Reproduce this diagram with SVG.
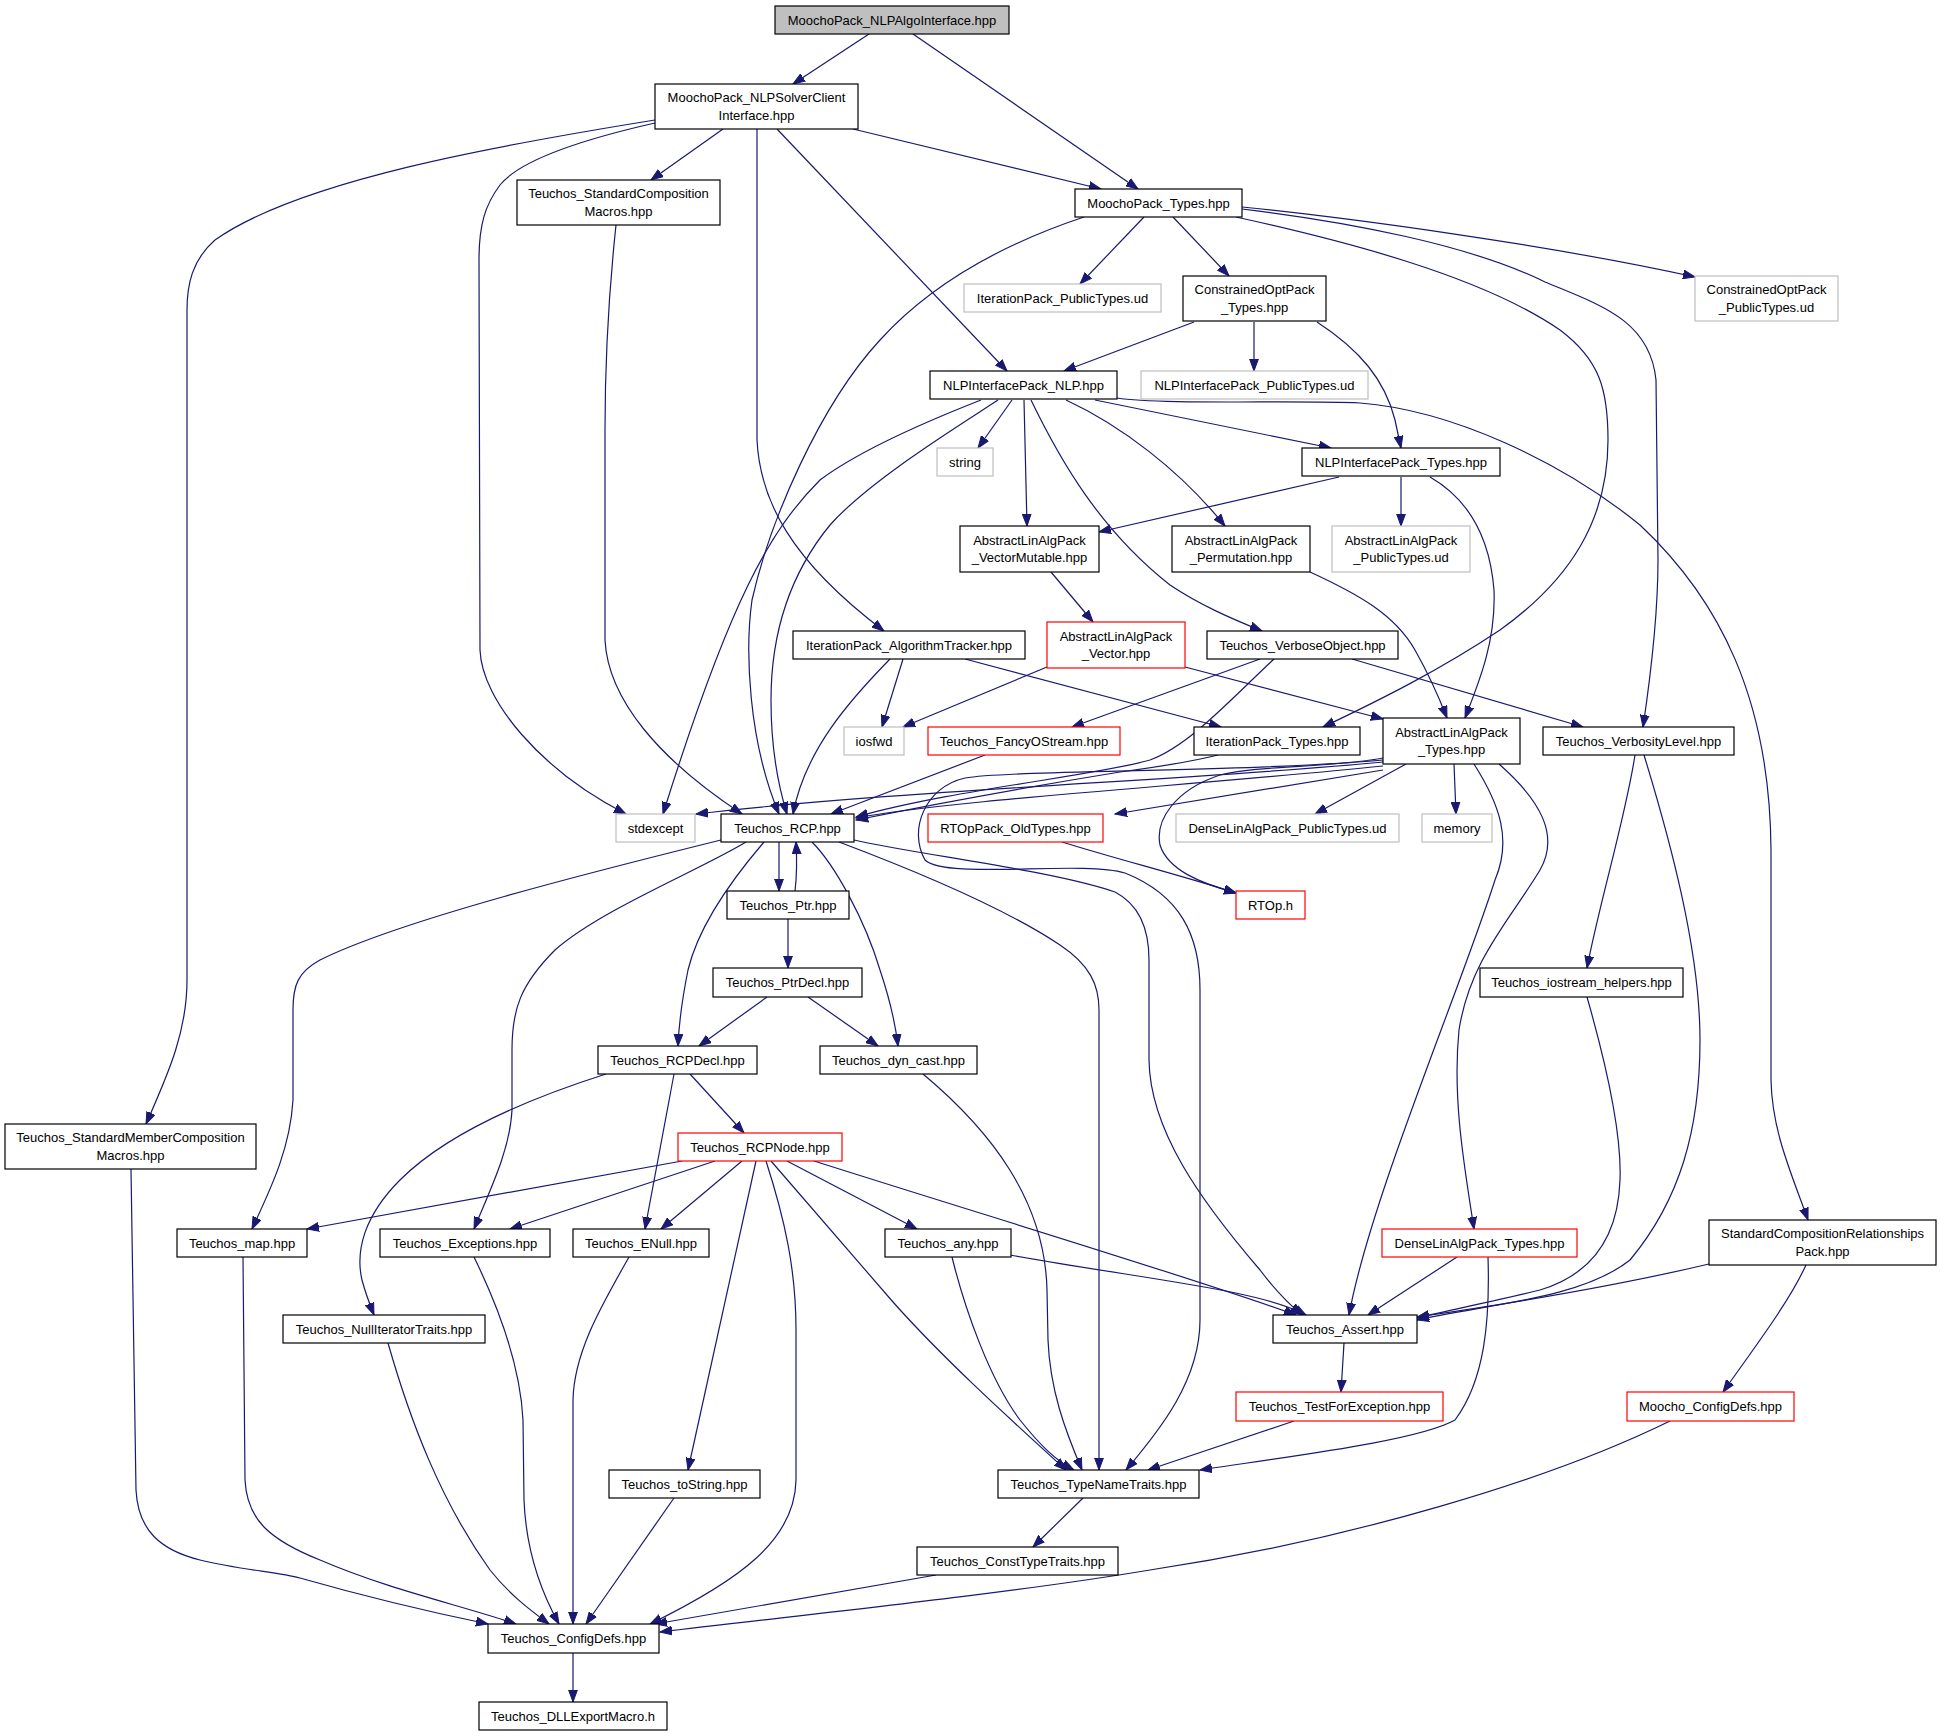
<svg xmlns="http://www.w3.org/2000/svg" width="1941" height="1736" viewBox="0 0 1941 1736">
<style>
rect{fill:#ffffff;stroke:#000000;stroke-width:1.2}
.top rect{fill:#bfbfbf}
.g rect{stroke:#bfbfbf}
.r rect{stroke:#ff0000}
text{font-family:"Liberation Sans",Arial,Helvetica,sans-serif;font-size:13px;fill:#000000;text-anchor:middle}
#edges path{fill:none;stroke:#191970;stroke-width:1.2;marker-end:url(#arr)}
</style>
<defs>
<marker id="arr" markerUnits="userSpaceOnUse" markerWidth="13" markerHeight="10" refX="12" refY="5" orient="auto">
<path d="M0,0.6 L12,5 L0,9.4 z" fill="#191970" stroke="#191970" stroke-width="1"/>
</marker>
</defs>
<rect x="0" y="0" width="1941" height="1736" style="fill:#ffffff;stroke:none"/>
<g id="edges">
<path d="M869,34 L793,84"/>
<path d="M913,34 L1138,189"/>
<path d="M853,129 L1101,189"/>
<path d="M723,129 L651,180"/>
<path d="M777,129 L1007,371"/>
<path d="M757,129 L757,440 C760,500 790,560 884,631"/>
<path d="M655,123 C580,140 520,160 500,185 C485,205 479,225 479,260 L480,650 C482,700 540,770 626,814"/>
<path d="M655,120 C500,145 300,180 215,240 C192,260 187,285 187,310 L187,980 C187,1030 170,1070 146,1124"/>
<path d="M616,225 C608,300 605,360 605,430 L605,640 C608,700 660,760 742,814"/>
<path d="M1084,217 C1000,245 930,285 880,340 C820,405 770,520 752,600 C745,650 748,740 779,814"/>
<path d="M1144,217 L1080,284"/>
<path d="M1173,217 L1229,276"/>
<path d="M1242,207 C1350,218 1550,245 1695,277"/>
<path d="M1236,217 C1340,240 1480,275 1560,330 C1600,360 1608,390 1608,440 C1608,520 1570,580 1500,630 C1440,670 1380,700 1323,727"/>
<path d="M1242,209 C1350,222 1470,245 1545,282 C1600,305 1650,320 1656,380 L1658,560 C1658,620 1650,680 1643,727"/>
<path d="M1194,322 L1064,371"/>
<path d="M1254,322 L1254,371"/>
<path d="M1317,322 C1360,350 1385,380 1395,420 L1401,448"/>
<path d="M981,400 C930,420 860,450 820,480 C770,530 730,600 663,814"/>
<path d="M998,400 C960,425 870,480 830,525 C785,580 771,640 771,700 C771,750 778,785 787,814"/>
<path d="M1012,400 L978,448"/>
<path d="M1024,400 L1027,526"/>
<path d="M1031,400 C1060,460 1100,530 1170,585 C1200,605 1230,618 1262,631"/>
<path d="M1066,400 C1120,425 1180,470 1225,526"/>
<path d="M1095,400 L1331,448"/>
<path d="M1117,398 C1160,405 1300,400 1360,403 C1450,410 1560,460 1640,525 C1720,600 1770,700 1771,850 L1771,1080 C1772,1130 1790,1170 1808,1220"/>
<path d="M1339,477 L1099,532"/>
<path d="M1401,477 L1401,526"/>
<path d="M1430,477 C1470,500 1490,540 1494,590 C1496,640 1480,680 1465,718"/>
<path d="M1051,572 L1093,622"/>
<path d="M1310,572 C1360,595 1395,615 1415,650 C1432,680 1440,700 1447,718"/>
<path d="M890,659 C850,700 805,750 793,814"/>
<path d="M903,659 L882,727"/>
<path d="M965,659 L1221,727"/>
<path d="M1047,667 L903,727"/>
<path d="M1185,667 L1383,719"/>
<path d="M1260,659 L1072,727"/>
<path d="M1352,659 L1583,727"/>
<path d="M985,755 L831,814"/>
<path d="M1218,755 C1190,762 1150,768 1120,772 C1040,785 930,805 856,820"/>
<path d="M1274,659 C1230,700 1190,745 1150,760 C1100,775 950,790 856,817"/>
<path d="M1383,762 C1200,780 900,790 696,814"/>
<path d="M1383,766 C1200,785 950,800 856,818"/>
<path d="M1383,770 L1115,814"/>
<path d="M1406,764 L1315,814"/>
<path d="M1454,764 L1456,814"/>
<path d="M1383,758 C1330,768 1260,765 1220,775 C1175,790 1155,820 1160,845 C1168,870 1200,883 1236,893"/>
<path d="M1062,842 C1120,860 1180,875 1236,893"/>
<path d="M1499,764 C1540,800 1560,835 1540,870 C1510,920 1470,960 1459,1030 C1452,1100 1465,1170 1474,1229"/>
<path d="M1474,764 C1500,805 1512,840 1495,880 C1460,990 1370,1200 1349,1315"/>
<path d="M1383,760 C1250,772 1010,770 965,778 C925,787 908,830 925,860 C945,880 1080,860 1125,873 C1180,895 1200,935 1200,990 L1200,1320 C1200,1380 1160,1430 1126,1470"/>
<path d="M779,842 L779,891"/>
<path d="M795,891 C797,875 797,860 796,842"/>
<path d="M764,842 C740,870 700,920 688,970 C682,1000 679,1020 678,1046"/>
<path d="M812,842 C835,865 865,920 880,970 C890,1000 895,1020 898,1046"/>
<path d="M746,842 C700,870 600,910 555,950 C520,985 512,1010 512,1050 L512,1110 C510,1150 490,1190 474,1229"/>
<path d="M721,840 C600,870 400,920 320,960 C298,972 293,985 293,1010 L293,1100 C290,1150 270,1190 252,1229"/>
<path d="M839,842 C900,865 1000,905 1060,945 C1090,965 1099,985 1099,1010 L1099,1470"/>
<path d="M854,840 C920,855 1050,870 1115,892 C1140,905 1149,930 1149,960 L1149,1060 C1150,1130 1200,1200 1260,1270 C1275,1290 1290,1305 1302,1315"/>
<path d="M788,919 L788,968"/>
<path d="M767,997 L699,1046"/>
<path d="M808,997 L878,1046"/>
<path d="M690,1074 L744,1133"/>
<path d="M674,1074 L645,1229"/>
<path d="M606,1074 C540,1095 450,1130 400,1180 C365,1215 355,1250 362,1280 C366,1295 370,1305 374,1315"/>
<path d="M923,1074 C990,1130 1045,1200 1047,1290 L1048,1340 C1050,1390 1065,1430 1082,1470"/>
<path d="M682,1161 L307,1229"/>
<path d="M715,1161 L510,1229"/>
<path d="M742,1161 L661,1229"/>
<path d="M756,1161 L688,1470"/>
<path d="M766,1161 C785,1220 796,1270 796,1330 L796,1480 C795,1540 740,1580 650,1624"/>
<path d="M771,1161 L893,1302 C940,1355 1000,1410 1066,1470"/>
<path d="M787,1161 L917,1229"/>
<path d="M814,1161 C1000,1220 1200,1280 1296,1315"/>
<path d="M952,1257 C965,1310 990,1380 1020,1420 C1040,1445 1055,1460 1074,1470"/>
<path d="M1010,1255 C1150,1280 1260,1290 1306,1315"/>
<path d="M1488,1257 C1490,1320 1485,1380 1455,1420 C1420,1440 1300,1455 1200,1470"/>
<path d="M1457,1257 L1368,1315"/>
<path d="M1635,755 C1625,820 1600,900 1587,968"/>
<path d="M1644,755 C1670,840 1700,950 1700,1040 C1700,1130 1680,1200 1630,1260 C1580,1300 1480,1305 1417,1320"/>
<path d="M1587,997 C1605,1060 1622,1130 1620,1180 C1618,1240 1590,1275 1540,1290 C1500,1300 1450,1310 1417,1318"/>
<path d="M1709,1264 C1620,1285 1500,1305 1417,1317"/>
<path d="M1806,1265 C1790,1300 1760,1340 1723,1392"/>
<path d="M1344,1343 L1341,1392"/>
<path d="M1294,1421 L1148,1470"/>
<path d="M1670,1421 C1550,1480 1350,1540 1150,1570 C1000,1595 800,1615 660,1632"/>
<path d="M936,1575 L655,1624"/>
<path d="M1083,1498 L1033,1547"/>
<path d="M573,1653 L573,1702"/>
<path d="M674,1498 L586,1624"/>
<path d="M629,1257 C605,1300 574,1350 573,1400 L573,1624"/>
<path d="M474,1257 C495,1300 520,1360 523,1420 L524,1500 C526,1550 540,1590 559,1624"/>
<path d="M388,1343 C410,1420 440,1500 490,1570 C510,1595 530,1610 549,1624"/>
<path d="M243,1257 L245,1480 C247,1520 270,1540 320,1560 C390,1590 460,1605 516,1624"/>
<path d="M131,1169 L136,1490 C138,1530 160,1550 200,1560 C240,1570 280,1572 300,1578 C370,1598 430,1612 488,1624"/>
</g>
<g id="n1" class="top"><rect x="775" y="6" width="234" height="28"/><text x="892" y="24.5">MoochoPack_NLPAlgoInterface.hpp</text></g>
<g id="n2"><rect x="655" y="84" width="203" height="45"/><text x="756.5" y="102">MoochoPack_NLPSolverClient</text><text x="756.5" y="119.5">Interface.hpp</text></g>
<g id="n3"><rect x="517" y="180" width="203" height="45"/><text x="618.5" y="198">Teuchos_StandardComposition</text><text x="618.5" y="215.5">Macros.hpp</text></g>
<g id="n4"><rect x="1075" y="189" width="167" height="28"/><text x="1158.5" y="207.5">MoochoPack_Types.hpp</text></g>
<g id="n5" class="g"><rect x="964" y="284" width="197" height="28"/><text x="1062.5" y="302.5">IterationPack_PublicTypes.ud</text></g>
<g id="n6"><rect x="1183" y="276" width="143" height="45"/><text x="1254.5" y="294">ConstrainedOptPack</text><text x="1254.5" y="311.5">_Types.hpp</text></g>
<g id="n7" class="g"><rect x="1695" y="276" width="143" height="45"/><text x="1766.5" y="294">ConstrainedOptPack</text><text x="1766.5" y="311.5">_PublicTypes.ud</text></g>
<g id="n8"><rect x="930" y="371" width="187" height="28"/><text x="1023.5" y="389.5">NLPInterfacePack_NLP.hpp</text></g>
<g id="n9" class="g"><rect x="1141" y="371" width="227" height="28"/><text x="1254.5" y="389.5">NLPInterfacePack_PublicTypes.ud</text></g>
<g id="n10" class="g"><rect x="937" y="448" width="56" height="28"/><text x="965" y="466.5">string</text></g>
<g id="n11"><rect x="1302" y="448" width="198" height="28"/><text x="1401" y="466.5">NLPInterfacePack_Types.hpp</text></g>
<g id="n12"><rect x="960" y="526" width="139" height="46"/><text x="1029.5" y="544.5">AbstractLinAlgPack</text><text x="1029.5" y="562">_VectorMutable.hpp</text></g>
<g id="n13"><rect x="1172" y="526" width="138" height="46"/><text x="1241" y="544.5">AbstractLinAlgPack</text><text x="1241" y="562">_Permutation.hpp</text></g>
<g id="n14" class="g"><rect x="1332" y="526" width="138" height="46"/><text x="1401" y="544.5">AbstractLinAlgPack</text><text x="1401" y="562">_PublicTypes.ud</text></g>
<g id="n15"><rect x="793" y="631" width="232" height="28"/><text x="909" y="649.5">IterationPack_AlgorithmTracker.hpp</text></g>
<g id="n16" class="r"><rect x="1047" y="622" width="138" height="46"/><text x="1116" y="640.5">AbstractLinAlgPack</text><text x="1116" y="658">_Vector.hpp</text></g>
<g id="n17"><rect x="1207" y="631" width="191" height="28"/><text x="1302.5" y="649.5">Teuchos_VerboseObject.hpp</text></g>
<g id="n18" class="g"><rect x="844" y="727" width="60" height="28"/><text x="874" y="745.5">iosfwd</text></g>
<g id="n19" class="r"><rect x="928" y="727" width="192" height="28"/><text x="1024" y="745.5">Teuchos_FancyOStream.hpp</text></g>
<g id="n20"><rect x="1194" y="727" width="166" height="28"/><text x="1277" y="745.5">IterationPack_Types.hpp</text></g>
<g id="n21"><rect x="1383" y="718" width="137" height="46"/><text x="1451.5" y="736.5">AbstractLinAlgPack</text><text x="1451.5" y="754">_Types.hpp</text></g>
<g id="n22"><rect x="1543" y="727" width="191" height="28"/><text x="1638.5" y="745.5">Teuchos_VerbosityLevel.hpp</text></g>
<g id="n23" class="g"><rect x="616" y="814" width="79" height="28"/><text x="655.5" y="832.5">stdexcept</text></g>
<g id="n24"><rect x="721" y="814" width="133" height="28"/><text x="787.5" y="832.5">Teuchos_RCP.hpp</text></g>
<g id="n25" class="r"><rect x="928" y="814" width="175" height="28"/><text x="1015.5" y="832.5">RTOpPack_OldTypes.hpp</text></g>
<g id="n26" class="g"><rect x="1176" y="814" width="223" height="28"/><text x="1287.5" y="832.5">DenseLinAlgPack_PublicTypes.ud</text></g>
<g id="n27" class="g"><rect x="1422" y="814" width="70" height="28"/><text x="1457" y="832.5">memory</text></g>
<g id="n28"><rect x="727" y="891" width="122" height="28"/><text x="788" y="909.5">Teuchos_Ptr.hpp</text></g>
<g id="n29" class="r"><rect x="1236" y="891" width="69" height="28"/><text x="1270.5" y="909.5">RTOp.h</text></g>
<g id="n30"><rect x="713" y="968" width="149" height="29"/><text x="787.5" y="987">Teuchos_PtrDecl.hpp</text></g>
<g id="n31"><rect x="1480" y="968" width="203" height="29"/><text x="1581.5" y="987">Teuchos_iostream_helpers.hpp</text></g>
<g id="n32"><rect x="598" y="1046" width="159" height="28"/><text x="677.5" y="1064.5">Teuchos_RCPDecl.hpp</text></g>
<g id="n33"><rect x="820" y="1046" width="157" height="28"/><text x="898.5" y="1064.5">Teuchos_dyn_cast.hpp</text></g>
<g id="n34"><rect x="5" y="1124" width="251" height="45"/><text x="130.5" y="1142">Teuchos_StandardMemberComposition</text><text x="130.5" y="1159.5">Macros.hpp</text></g>
<g id="n35" class="r"><rect x="678" y="1133" width="164" height="28"/><text x="760" y="1151.5">Teuchos_RCPNode.hpp</text></g>
<g id="n36"><rect x="177" y="1229" width="130" height="28"/><text x="242" y="1247.5">Teuchos_map.hpp</text></g>
<g id="n37"><rect x="380" y="1229" width="170" height="28"/><text x="465" y="1247.5">Teuchos_Exceptions.hpp</text></g>
<g id="n38"><rect x="573" y="1229" width="136" height="28"/><text x="641" y="1247.5">Teuchos_ENull.hpp</text></g>
<g id="n39"><rect x="885" y="1229" width="126" height="28"/><text x="948" y="1247.5">Teuchos_any.hpp</text></g>
<g id="n40" class="r"><rect x="1382" y="1229" width="195" height="28"/><text x="1479.5" y="1247.5">DenseLinAlgPack_Types.hpp</text></g>
<g id="n41"><rect x="1709" y="1220" width="227" height="45"/><text x="1822.5" y="1238">StandardCompositionRelationships</text><text x="1822.5" y="1255.5">Pack.hpp</text></g>
<g id="n42"><rect x="283" y="1315" width="202" height="28"/><text x="384" y="1333.5">Teuchos_NullIteratorTraits.hpp</text></g>
<g id="n43"><rect x="1273" y="1315" width="144" height="28"/><text x="1345" y="1333.5">Teuchos_Assert.hpp</text></g>
<g id="n44" class="r"><rect x="1236" y="1392" width="207" height="29"/><text x="1339.5" y="1411">Teuchos_TestForException.hpp</text></g>
<g id="n45" class="r"><rect x="1627" y="1392" width="167" height="29"/><text x="1710.5" y="1411">Moocho_ConfigDefs.hpp</text></g>
<g id="n46"><rect x="609" y="1470" width="151" height="28"/><text x="684.5" y="1488.5">Teuchos_toString.hpp</text></g>
<g id="n47"><rect x="998" y="1470" width="201" height="28"/><text x="1098.5" y="1488.5">Teuchos_TypeNameTraits.hpp</text></g>
<g id="n48"><rect x="917" y="1547" width="201" height="28"/><text x="1017.5" y="1565.5">Teuchos_ConstTypeTraits.hpp</text></g>
<g id="n49"><rect x="488" y="1624" width="171" height="29"/><text x="573.5" y="1643">Teuchos_ConfigDefs.hpp</text></g>
<g id="n50"><rect x="479" y="1702" width="188" height="28"/><text x="573" y="1720.5">Teuchos_DLLExportMacro.h</text></g>
</svg>
